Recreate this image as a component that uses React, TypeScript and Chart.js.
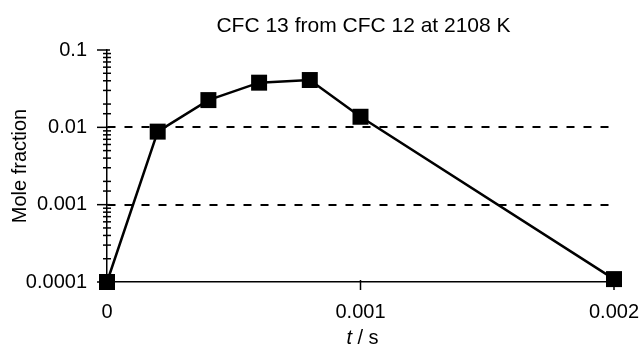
import React, { useEffect, useRef } from "react";
import { Chart, registerables } from "chart.js";

Chart.register(...registerables);

const chartTitle = "CFC 13 from CFC 12 at 2108 K";
const xAxisItalic = "t";
const xAxisRest = " / s";
const yAxisTitle = "Mole fraction";

const timeValues = [0, 0.0002, 0.0004, 0.0006, 0.0008, 0.001, 0.002];
const moleFractions = [0.0001, 0.0088, 0.0225, 0.0378, 0.0409, 0.0137, 0.000109];

const xTickValues = [0, 0.001, 0.002];
const xTickLabels = ["0", "0.001", "0.002"];
const yTickValues = [0.0001, 0.001, 0.01, 0.1];
const yTickLabels = ["0.0001", "0.001", "0.01", "0.1"];
const dashedLevels = [0.001, 0.01];

const FONT = "'Liberation Sans', Arial, Helvetica, sans-serif";

const isMajor = (v: number) => {
  const l = Math.log10(v);
  return Math.abs(l - Math.round(l)) < 1e-6;
};

const decorPlugin = {
  id: "decor",
  afterDraw(chart: any) {
    const { ctx, chartArea } = chart;
    const xs = chart.scales.x;
    const ys = chart.scales.y;
    ctx.save();
    ctx.strokeStyle = "#000";
    ctx.lineWidth = 1.5;
    ctx.setLineDash([]);
    ys.ticks.forEach((t: any) => {
      const y = ys.getPixelForValue(t.value);
      ctx.beginPath();
      if (isMajor(t.value)) {
        ctx.moveTo(chartArea.left - 10, y);
        ctx.lineTo(chartArea.left + 3, y);
      } else {
        ctx.moveTo(chartArea.left - 4, y);
        ctx.lineTo(chartArea.left + 4, y);
      }
      ctx.stroke();
    });
    xTickValues.forEach((v) => {
      const x = xs.getPixelForValue(v);
      ctx.beginPath();
      ctx.moveTo(x, chartArea.bottom - 2);
      ctx.lineTo(x, chartArea.bottom + 8);
      ctx.stroke();
    });
    const cx = (chartArea.left + chartArea.right) / 2;
    ctx.fillStyle = "#000";
    ctx.font = `21px ${FONT}`;
    ctx.textAlign = "center";
    ctx.textBaseline = "middle";
    ctx.fillText(chartTitle, cx + 3, 26);
    ctx.font = `italic 20px ${FONT}`;
    const w1 = ctx.measureText(xAxisItalic).width;
    ctx.font = `20px ${FONT}`;
    const w2 = ctx.measureText(xAxisRest).width;
    const start = cx + 2 - (w1 + w2) / 2;
    ctx.textAlign = "left";
    ctx.font = `italic 20px ${FONT}`;
    ctx.fillText(xAxisItalic, start, 338);
    ctx.font = `20px ${FONT}`;
    ctx.fillText(xAxisRest, start + w1, 338);
    ctx.restore();
  },
};

export default function App() {
  const canvasRef = useRef<HTMLCanvasElement | null>(null);

  useEffect(() => {
    if (!canvasRef.current) return;
    const chart = new Chart(canvasRef.current, {
      type: "line",
      data: {
        datasets: [
          {
            data: timeValues.map((t, i) => ({ x: t, y: moleFractions[i] })),
            borderColor: "#000",
            backgroundColor: "#000",
            borderWidth: 2.5,
            pointStyle: "rect",
            pointRadius: 11.3,
            pointHoverRadius: 11.3,
            pointBackgroundColor: "#000",
            pointBorderColor: "#000",
            pointBorderWidth: 0,
            tension: 0,
            clip: false as any,
          },
        ],
      },
      options: {
        animation: false,
        responsive: false,
        maintainAspectRatio: false,
        layout: { padding: { left: 0, right: 29, top: 50, bottom: 0 } },
        plugins: {
          legend: { display: false },
          title: { display: false },
          tooltip: { enabled: false },
        },
        scales: {
          x: {
            type: "linear",
            min: 0,
            max: 0.002,
            afterFit: (s: any) => {
              s.height = 64;
              s.paddingLeft = 0;
              s.paddingRight = 0;
            },
            afterBuildTicks: (s: any) => {
              s.ticks = xTickValues.map((v) => ({ value: v }));
            },
            ticks: {
              color: "#000",
              font: { family: FONT, size: 20 },
              padding: 18,
              maxRotation: 0,
              autoSkip: false,
              callback: (v: any) => {
                const i = xTickValues.findIndex((t) => Math.abs(t - Number(v)) < 1e-9);
                return i >= 0 ? xTickLabels[i] : "";
              },
            },
            grid: { display: true, drawOnChartArea: false, drawTicks: false },
            border: { display: true, color: "#000", width: 1.5 },
          },
          y: {
            type: "logarithmic",
            min: 0.0001,
            max: 0.1,
            afterFit: (s: any) => {
              s.width = 107;
              s.paddingTop = 0;
              s.paddingBottom = 0;
            },
            ticks: {
              color: "#000",
              font: { family: FONT, size: 20 },
              padding: 20,
              autoSkip: false,
              callback: (v: any) => {
                const i = yTickValues.findIndex((t) => Math.abs(t - Number(v)) / t < 1e-6);
                return i >= 0 ? yTickLabels[i] : "";
              },
            },
            grid: {
              drawTicks: false,
              lineWidth: 2,
              color: (c: any) => {
                const v = c.tick ? c.tick.value : null;
                if (v == null) return "rgba(0,0,0,0)";
                return dashedLevels.some((d) => Math.abs(d - v) / d < 1e-6) ? "#000" : "rgba(0,0,0,0)";
              },
            },
            border: {
              display: true,
              color: "#000",
              width: 1.5,
              dash: (c: any) => (c.type === "tick" ? [8, 9] : []),
            } as any,
            title: {
              display: true,
              text: yAxisTitle,
              color: "#000",
              font: { family: FONT, size: 20 },
              padding: { top: 8, bottom: 0 },
            },
          },
        },
      },
      plugins: [decorPlugin],
    });
    return () => chart.destroy();
  }, []);

  return (
    <div style={{ position: "fixed", left: 0, top: 0, width: 643, height: 346, background: "#fff" }}>
      <canvas ref={canvasRef} width={643} height={346} style={{ width: 643, height: 346 }} />
    </div>
  );
}
